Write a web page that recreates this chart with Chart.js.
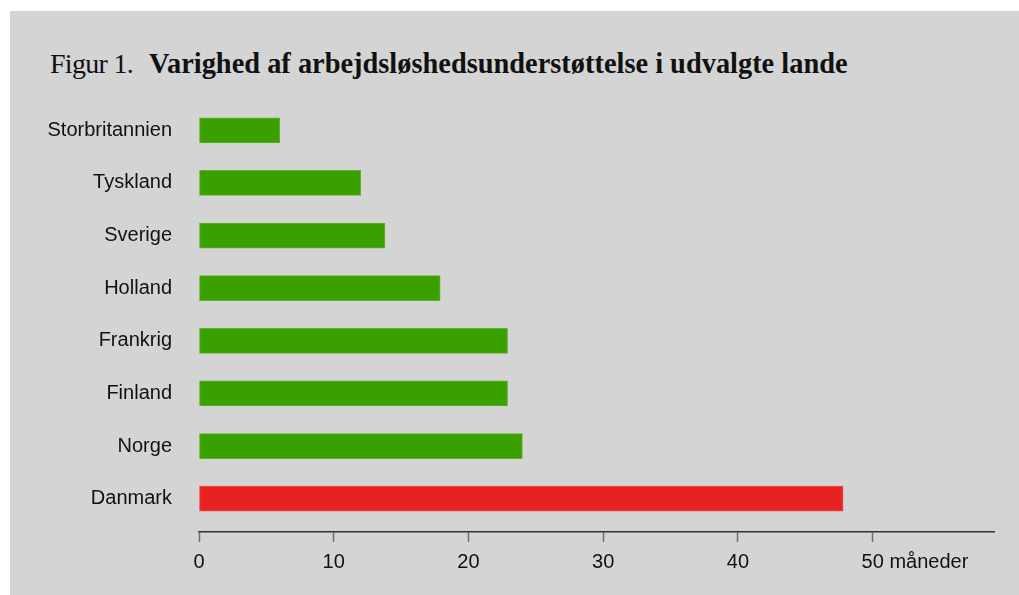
<!DOCTYPE html>
<html>
<head>
<meta charset="utf-8">
<script src="https://cdn.jsdelivr.net/npm/chart.js@4/dist/chart.umd.min.js"></script>
<style>
  html, body { margin: 0; padding: 0; background: #fff; }
  #panel { position: absolute; left: 10px; top: 11px; right: 0; bottom: 0; background: #d4d4d4; }
  #wrap { position: absolute; left: 0; top: 0; width: 1019px; height: 595px; }
  #title { position: absolute; left: 50px; top: 50px; white-space: nowrap; line-height: 28px;
           font-family: "Liberation Serif", serif; font-size: 28px; color: #111; }
  #title .fig { letter-spacing: -0.7px; margin-right: 16px; }
  #title b { font-weight: bold; font-size: 28.4px; }
</style>
</head>
<body>
<div id="panel"></div>
<div id="title"><span class="fig">Figur 1.</span><b>Varighed af arbejdsløshedsunderstøttelse i udvalgte lande</b></div>
<div id="wrap"><canvas id="chart" width="1019" height="595"></canvas></div>
<script>
const countries = ["Storbritannien", "Tyskland", "Sverige", "Holland", "Frankrig", "Finland", "Norge", "Danmark"];
const months = [6, 12, 13.8, 17.9, 22.9, 22.9, 24, 47.8];
const barColors = ["#3aa000", "#3aa000", "#3aa000", "#3aa000", "#3aa000", "#3aa000", "#3aa000", "#e82222"];
const edgeColors = ["#5cb52e", "#5cb52e", "#5cb52e", "#5cb52e", "#5cb52e", "#5cb52e", "#5cb52e", "#ee4a4a"];
const xTicks = [0, 10, 20, 30, 40, 50];
const unitLabel = "måneder";

const labelFont = { family: "Liberation Sans, Arial, sans-serif", size: 20 };

// draws the unit after the last tick label
const unitPlugin = {
    id: "unit",
    afterDraw(chart) {
        const x = chart.scales.x;
        const ctx = chart.ctx;
        ctx.save();
        ctx.font = `${labelFont.size}px ${labelFont.family}`;
        ctx.fillStyle = "#111";
        ctx.textBaseline = "middle";
        ctx.textAlign = "left";
        const last = xTicks[xTicks.length - 1];
        const px = x.getPixelForValue(last) + ctx.measureText(String(last)).width / 2 + ctx.measureText(" ").width;
        ctx.fillText(unitLabel, px, x.top + 10 + 8 + 12);
        ctx.restore();
    }
};

new Chart(document.getElementById("chart"), {
    type: "bar",
    data: {
        labels: countries,
        datasets: [{
            data: months,
            xAxisID: "x",
            yAxisID: "y",
            backgroundColor: barColors,
            borderColor: edgeColors,
            borderWidth: 1,
            borderSkipped: false,
            barThickness: 25
        }]
    },
    options: {
        indexAxis: "y",
        responsive: false,
        animation: false,
        layout: { padding: { top: 104, right: 25, bottom: 0, left: 0 } },
        plugins: { legend: { display: false }, tooltip: { enabled: false }, title: { display: false } },
        scales: {
            x: {
                type: "linear",
                position: "bottom",
                weight: 1,
                min: 0,
                max: 59,
                afterBuildTicks: s => { s.ticks = xTicks.map(v => ({ value: v })); },
                ticks: { font: labelFont, color: "#111", padding: 8, maxRotation: 0 },
                grid: { drawOnChartArea: false, drawTicks: true, tickLength: 10, tickColor: "#6f6f6f", tickWidth: 1.5 },
                border: { color: "#333", width: 1.5 },
                afterFit: s => { s.height = 63; }
            },
            y: {
                type: "category",
                offset: true,
                grid: { display: false, drawTicks: false },
                border: { display: false },
                ticks: { font: labelFont, color: "#111", padding: 27 },
                afterFit: s => { s.width = 199; }
            },
            gap: {
                type: "linear",
                position: "bottom",
                axis: "x",
                weight: 0,
                grid: { display: false, drawTicks: false },
                border: { display: false },
                ticks: { display: false },
                afterFit: s => { s.height = 7; }
            }
        }
    },
    plugins: [unitPlugin]
});
</script>
</body>
</html>
